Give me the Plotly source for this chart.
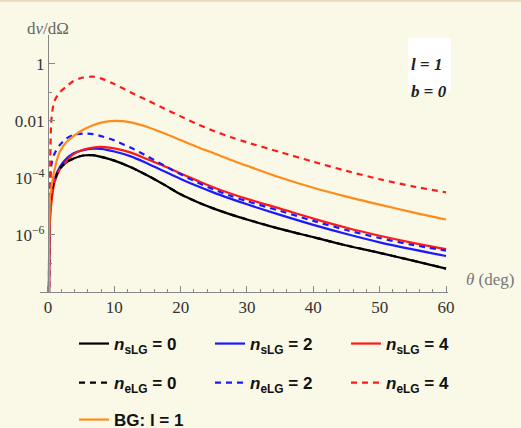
import numpy as np
import plotly.graph_objects as go

# Polar angle (deg)
theta = [0.15, 0.3, 0.55, 1.0, 1.8, 2.8, 3.8, 5.3, 6.8, 8.0, 10.0, 12.5, 15.0,
         17.5, 20.0, 22.5, 25.0, 27.5, 30.0, 35.0, 40.0, 45.0, 50.0, 55.0, 60.0]

# log10(dν/dΩ)
log_ns0 = [-9, -5.0, -4.5, -4.08, -3.68, -3.45, -3.33, -3.22, -3.21, -3.27, -3.40, -3.63, -3.92,
           -4.24, -4.58, -4.85, -5.08, -5.28, -5.46, -5.79, -6.08, -6.37, -6.63, -6.90, -7.18]
log_ns2 = [-9, -5.3, -4.67, -4.05, -3.62, -3.33, -3.15, -3.03, -2.98, -2.99, -3.08, -3.25, -3.50,
           -3.77, -4.04, -4.29, -4.52, -4.73, -4.93, -5.30, -5.65, -5.97, -6.26, -6.51, -6.74]
log_ns4 = [-9, -5.5, -4.8, -4.15, -3.70, -3.42, -3.18, -3.02, -2.94, -2.92, -2.97, -3.12, -3.35,
           -3.59, -3.85, -4.10, -4.34, -4.55, -4.74, -5.08, -5.43, -5.75, -6.03, -6.28, -6.50]
log_ne0 = log_ns0
log_ne2 = [-9, -4.5, -3.5, -3.15, -2.85, -2.62, -2.50, -2.45, -2.47, -2.54, -2.69, -2.95, -3.25,
           -3.57, -3.88, -4.16, -4.41, -4.63, -4.82, -5.16, -5.51, -5.83, -6.11, -6.35, -6.55]
log_ne4 = [-9, -4.2, -1.88, -1.30, -1.00, -0.80, -0.62, -0.49, -0.46, -0.52, -0.72, -1.01, -1.29,
           -1.57, -1.85, -2.12, -2.36, -2.57, -2.76, -3.10, -3.44, -3.76, -4.05, -4.30, -4.51]
log_bg = [-9, -4.78, -4.3, -3.70, -3.08, -2.75, -2.55, -2.32, -2.16, -2.07, -2.01, -2.06, -2.22,
          -2.44, -2.68, -2.92, -3.14, -3.37, -3.58, -3.99, -4.35, -4.66, -4.94, -5.21, -5.46]

names = ["<i>n</i><sub>sLG</sub> = 0", "<i>n</i><sub>sLG</sub> = 2", "<i>n</i><sub>sLG</sub> = 4",
         "<i>n</i><sub>eLG</sub> = 0", "<i>n</i><sub>eLG</sub> = 2", "<i>n</i><sub>eLG</sub> = 4",
         "BG: l = 1"]
series = [log_ns0, log_ns2, log_ns4, log_ne0, log_ne2, log_ne4, log_bg]
colors = ["#000000", "#1a1aff", "#ff1a1a", "#000000", "#1a1aff", "#ff1a1a", "#ff8c1a"]
dashes = ["solid", "solid", "solid", "6px,5px", "6px,5px", "6px,5px", "solid"]
legends = ["legend", "legend", "legend", "legend2", "legend2", "legend2", "legend3"]

x_tickvals = [0, 10, 20, 30, 40, 50, 60]
y_tickvals = [1, 0.01, 1e-4, 1e-6]
y_ticktext = ["1", "0.01", "10<sup>\u22124</sup>", "10<sup>\u22126</sup>"]
y_minor = [10, 0.1, 1e-3, 1e-5, 1e-7]

bg = "#FAF8E6"
fig = go.Figure()
for name, s, c, d, lg in zip(names, series, colors, dashes, legends):
    fig.add_trace(go.Scatter(x=theta, y=np.power(10.0, s), mode="lines", name=name,
                             line=dict(color=c, width=2.2, dash=d, shape="spline", smoothing=0.8),
                             legend=lg))

W, H = 521, 428
L, R, T, B = 40, 73, 35, 136
pw, ph = W - L - R, H - T - B

def px2x(px):
    return (px - L) / pw

def py2y(py):
    return (H - B - py) / ph

legfont = dict(family="Liberation Sans", size=17, color="#111", weight="bold")
leg_common = dict(orientation="h", xanchor="left", yanchor="middle", bgcolor="rgba(0,0,0,0)",
                  font=legfont, entrywidth=91, entrywidthmode="pixels", itemwidth=30)

tickfont = dict(family="Liberation Serif", size=17, color="#333")
fig.update_layout(
    width=W, height=H, margin=dict(l=L, r=R, t=T, b=B, autoexpand=False),
    paper_bgcolor=bg, plot_bgcolor=bg,
    xaxis=dict(range=[-1.2, 60.3], tickvals=x_tickvals, ticks="inside", ticklen=6,
               tickcolor="#888", showline=True, linecolor="#888", linewidth=1,
               showgrid=False, zeroline=False, tickfont=tickfont,
               minor=dict(dtick=2, ticks="inside", ticklen=3, tickcolor="#888")),
    yaxis=dict(type="log", range=[-8, 1], tickvals=y_tickvals, ticktext=y_ticktext,
               ticks="inside", ticklen=6, tickcolor="#888", showline=True, linecolor="#888",
               linewidth=1, showgrid=False, zeroline=False, tickfont=tickfont,
               anchor="free", position=1.2 / 61.5,
               minor=dict(tickvals=y_minor, ticks="inside", ticklen=3, tickcolor="#888")),
    legend=dict(x=px2x(74), y=py2y(344), **leg_common),
    legend2=dict(x=px2x(74), y=py2y(383), **leg_common),
    legend3=dict(x=px2x(74), y=py2y(420), **leg_common),
    showlegend=True,
)

fig.add_shape(type="line", xref="paper", yref="paper", x0=-0.2, x1=1.3,
              y0=py2y(0.8), y1=py2y(0.8), line=dict(color="#EBD8C2", width=2))
fig.add_shape(type="rect", xref="paper", yref="paper", x0=px2x(408), x1=px2x(451),
              y0=py2y(92), y1=py2y(38), fillcolor="white", line=dict(width=0))

fig.add_annotation(xref="x", yref="paper", x=0, y=py2y(17), text="d<i>\u03bd</i>/d\u03a9",
                   showarrow=False, font=dict(family="Liberation Serif", size=17, color="#666"))
fig.add_annotation(xref="paper", yref="paper", x=px2x(464), y=py2y(291), xanchor="left",
                   text="<i>\u03b8</i> (deg)", showarrow=False,
                   font=dict(family="Liberation Serif", size=17, color="#777"))
boxfont = dict(family="Liberation Serif", size=17, color="#222")
fig.add_annotation(xref="paper", yref="paper", x=px2x(409), y=py2y(53), xanchor="left",
                   text="<b><i>l</i></b> <b>=</b> <b><i>1</i></b>", showarrow=False, font=boxfont)
fig.add_annotation(xref="paper", yref="paper", x=px2x(409), y=py2y(80), xanchor="left",
                   text="<b><i>b</i></b> <b>=</b> <b><i>0</i></b>", showarrow=False, font=boxfont)

fig.write_html("out.html", config={"displayModeBar": False},
               post_script="document.body.style.margin='0';"
                           "document.body.style.background='%s';" % bg)
